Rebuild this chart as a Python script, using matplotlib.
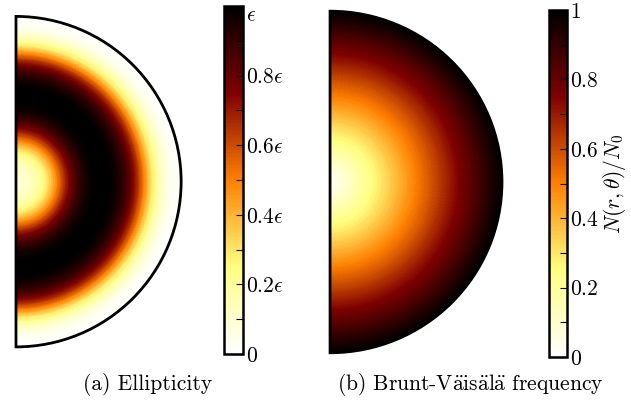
import matplotlib.pyplot as plt
import numpy as np
from matplotlib.patches import Wedge

plt.rcParams['mathtext.fontset'] = 'cm'
plt.rcParams['font.family'] = ['cmr10', 'DejaVu Serif']
plt.rcParams['axes.unicode_minus'] = False

# radial profiles (r from centre to surface)
r_eps = [0.0, 0.025, 0.05, 0.075, 0.10, 0.125, 0.15, 0.175, 0.20, 0.225, 0.25,
         0.275, 0.30, 0.325, 0.35, 0.375, 0.40, 0.425, 0.45, 0.475, 0.50,
         0.525, 0.55, 0.575, 0.60, 0.625, 0.65, 0.675, 0.70, 0.725, 0.75,
         0.775, 0.80, 0.825, 0.85, 0.875, 0.90, 0.925, 0.95, 0.975, 1.0]
ellipticity = [0.08, 0.085, 0.09, 0.105, 0.13, 0.16, 0.20, 0.26, 0.33, 0.41, 0.50,
               0.59, 0.68, 0.76, 0.82, 0.88, 0.92, 0.96, 0.98, 0.995, 1.0,
               1.0, 1.0, 0.99, 0.97, 0.94, 0.90, 0.85, 0.78, 0.70, 0.60,
               0.49, 0.38, 0.28, 0.20, 0.13, 0.08, 0.04, 0.02, 0.01, 0.0]
r_n = [0.0, 0.05, 0.10, 0.15, 0.20, 0.25, 0.30, 0.35, 0.40, 0.45, 0.50,
       0.55, 0.60, 0.65, 0.70, 0.75, 0.80, 0.85, 0.90, 0.95, 1.0]
brunt = [0.02, 0.05, 0.10, 0.15, 0.20, 0.25, 0.30, 0.35, 0.40, 0.45, 0.50,
         0.55, 0.60, 0.65, 0.70, 0.75, 0.80, 0.85, 0.90, 0.95, 1.0]

cbar_ticks = [0.0, 0.1, 0.2, 0.3, 0.4, 0.5, 0.6, 0.7, 0.8, 0.9, 1.0]
eps_labels = ['$0$', '', r'$0.2\epsilon$', '', r'$0.4\epsilon$', '', r'$0.6\epsilon$',
              '', r'$0.8\epsilon$', '', r'$\epsilon$']
n_labels = ['$0$', '', '$0.2$', '', '$0.4$', '', '$0.6$', '', '$0.8$', '', '$1$']

captions = ['(a) Ellipticity',
            r'(b) Brunt-V$\ddot{\mathrm{a}}$is$\ddot{\mathrm{a}}$l$\ddot{\mathrm{a}}$ frequency']

FS = 15.5


def half_disk(ax, radius, profile):
    th = np.linspace(-np.pi / 2, np.pi / 2, 241)
    R, T = np.meshgrid(np.array(radius), th)
    C = np.tile(np.array(profile), (len(th), 1))
    m = ax.pcolormesh(R * np.cos(T), R * np.sin(T), C, shading='gouraud',
                      cmap='afmhot_r', vmin=0, vmax=1, rasterized=True)
    ax.add_patch(Wedge((0, 0), 1, -90, 90, fill=False, lw=2, ec='black'))
    ax.set_xlim(-0.012, 1.012)
    ax.set_ylim(-1.012, 1.012)
    ax.axis('off')
    return m


def bar(fig, rect, mappable, labels, label=None):
    cax = fig.add_axes(rect)
    cb = fig.colorbar(mappable, cax=cax, ticks=cbar_ticks)
    cb.ax.set_yticklabels(labels, fontsize=FS)
    cb.ax.tick_params(direction='in', length=5, width=0.8, pad=2)
    cb.outline.set_linewidth(1.8)
    if label:
        cb.set_label(label, fontsize=FS, labelpad=2)
    return cb


fig = plt.figure(figsize=(6.31, 4.01), dpi=100)

ax1 = fig.add_axes([0.0222, 0.130, 0.2680, 0.834])
m1 = half_disk(ax1, r_eps, ellipticity)
cb1 = bar(fig, [0.355, 0.1172, 0.0301, 0.8678], m1, eps_labels)
# the top label would run off the figure, hang it from the tick instead
cb1.ax.get_yticklabels()[-1].set_va('top')

ax2 = fig.add_axes([0.5198, 0.1152, 0.2790, 0.8620])
m2 = half_disk(ax2, r_n, brunt)
bar(fig, [0.870, 0.1097, 0.0285, 0.8653], m2, n_labels, r'$N(r,\theta)/N_0$')

fig.text(0.2345, 0.042, captions[0], ha='center', va='center', fontsize=FS)
fig.text(0.746, 0.042, captions[1], ha='center', va='center', fontsize=FS)

fig.savefig('out.png', dpi=100)
